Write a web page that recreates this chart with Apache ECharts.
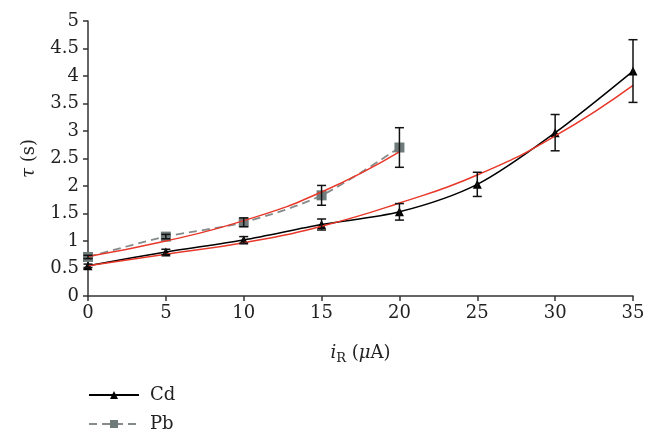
<!DOCTYPE html>
<html><head><meta charset="utf-8">
<script src="https://cdn.jsdelivr.net/npm/echarts@6/dist/echarts.min.js"></script>
<style>html,body{margin:0;padding:0;background:#fff}#c{width:657px;height:442px}</style>
</head><body><div id="c"></div>
<script>
var xCats = [0, 5, 10, 15, 20, 25, 30, 35];
var cdValues = [0.55, 0.80, 1.02, 1.30, 1.53, 2.03, 2.97, 4.09];
var cdErrors = [0.03, 0.05, 0.06, 0.10, 0.15, 0.22, 0.33, 0.57];
var cdFit = [0.55, 0.76, 0.97, 1.27, 1.69, 2.20, 2.91, 3.83];
var pbX = [0, 5, 10, 15, 20];
var pbValues = [0.71, 1.08, 1.34, 1.83, 2.70];
var pbErrors = [0.03, 0.04, 0.08, 0.18, 0.36];
var pbFit = [0.72, 1.00, 1.37, 1.89, 2.62];
var yTicks = [0, 0.5, 1, 1.5, 2, 2.5, 3, 3.5, 4, 4.5, 5];

var FONT = '"DejaVu Serif", "Liberation Serif", serif';
var FS = 18;
var pair = function (xs, ys) { return xs.map(function (x, i) { return [x, ys[i]]; }); };
var errData = function (xs, ys, es) { return xs.map(function (x, i) { return [x, ys[i] - es[i], ys[i] + es[i]]; }); };

function errRender(params, api) {
  var x = api.value(0);
  var lo = api.coord([x, api.value(1)]);
  var hi = api.coord([x, api.value(2)]);
  var w = 4.5;
  var st = { stroke: '#111', lineWidth: 1.5 };
  return { type: 'group', children: [
    { type: 'line', shape: { x1: lo[0], y1: lo[1], x2: hi[0], y2: hi[1] }, style: st },
    { type: 'line', shape: { x1: lo[0] - w, y1: lo[1], x2: lo[0] + w, y2: lo[1] }, style: st },
    { type: 'line', shape: { x1: hi[0] - w, y1: hi[1], x2: hi[0] + w, y2: hi[1] }, style: st }
  ]};
}

var chart = echarts.init(document.getElementById('c'), null, { renderer: 'canvas' });
chart.setOption({
  animation: false,
  backgroundColor: '#fff',
  grid: { left: 88, right: 24, top: 21, bottom: 146 },
  xAxis: {
    type: 'value', min: 0, max: 35, interval: 5,
    name: '{i|i}{sub|R} ({i|μ}A)', nameLocation: 'middle', nameGap: 46,
    nameTextStyle: { fontFamily: FONT, fontSize: FS, color: '#222',
      rich: { i: { fontFamily: FONT, fontSize: FS, fontStyle: 'italic', color: '#222' },
              sub: { fontFamily: FONT, fontSize: 13, color: '#222', padding: [10, 0, 0, 0] } } },
    axisLine: { lineStyle: { color: '#333', width: 1.5 } },
    axisTick: { show: true, length: 5, lineStyle: { color: '#333', width: 1.5 } },
    axisLabel: { fontFamily: FONT, fontSize: FS, color: '#222', margin: 8 },
    splitLine: { show: false }
  },
  yAxis: {
    type: 'value', min: 0, max: 5, interval: 0.5,
    name: '{i|τ} (s)', nameLocation: 'middle', nameGap: 50, nameRotate: 90,
    nameTextStyle: { fontFamily: FONT, fontSize: FS, color: '#222',
      rich: { i: { fontFamily: FONT, fontSize: FS, fontStyle: 'italic', color: '#222' } } },
    axisLine: { show: true, lineStyle: { color: '#333', width: 1.5 } },
    axisTick: { show: true, length: 5, lineStyle: { color: '#333', width: 1.5 } },
    axisLabel: { fontFamily: FONT, fontSize: FS, color: '#222', margin: 9,
      formatter: function (v) { return yTicks.indexOf(v) >= 0 ? String(v) : ''; } },
    splitLine: { show: false }
  },
  legend: {
    orient: 'vertical', left: 83, top: 381, itemGap: 11,
    itemWidth: 50, itemHeight: 10,
    textStyle: { fontFamily: FONT, fontSize: FS, color: '#222', padding: [0, 0, 0, 6] },
    data: ['Cd', 'Pb']
  },
  series: [
    { name: 'Cd fit', type: 'line', data: pair(xCats, cdFit), smooth: true, symbol: 'none',
      lineStyle: { color: '#e8382a', width: 1.5 }, z: 3 },
    { name: 'Pb fit', type: 'line', data: pair(pbX, pbFit), smooth: true, symbol: 'none',
      lineStyle: { color: '#e8382a', width: 1.5 }, z: 3 },
    { name: 'Cd', type: 'line', data: pair(xCats, cdValues), smooth: 0.3,
      symbol: 'triangle', symbolSize: 9,
      itemStyle: { color: '#000' }, lineStyle: { color: '#000', width: 1.5 }, z: 2 },
    { name: 'Pb', type: 'line', data: pair(pbX, pbValues), smooth: 0.3,
      symbol: 'rect', symbolSize: 10,
      itemStyle: { color: '#6f7b7b' }, lineStyle: { color: '#858b8b', width: 1.8, type: [8, 5] }, z: 2 },
    { type: 'custom', renderItem: errRender, data: errData(xCats, cdValues, cdErrors), z: 4, silent: true },
    { type: 'custom', renderItem: errRender, data: errData(pbX, pbValues, pbErrors), z: 4, silent: true }
  ]
});
</script></body></html>
